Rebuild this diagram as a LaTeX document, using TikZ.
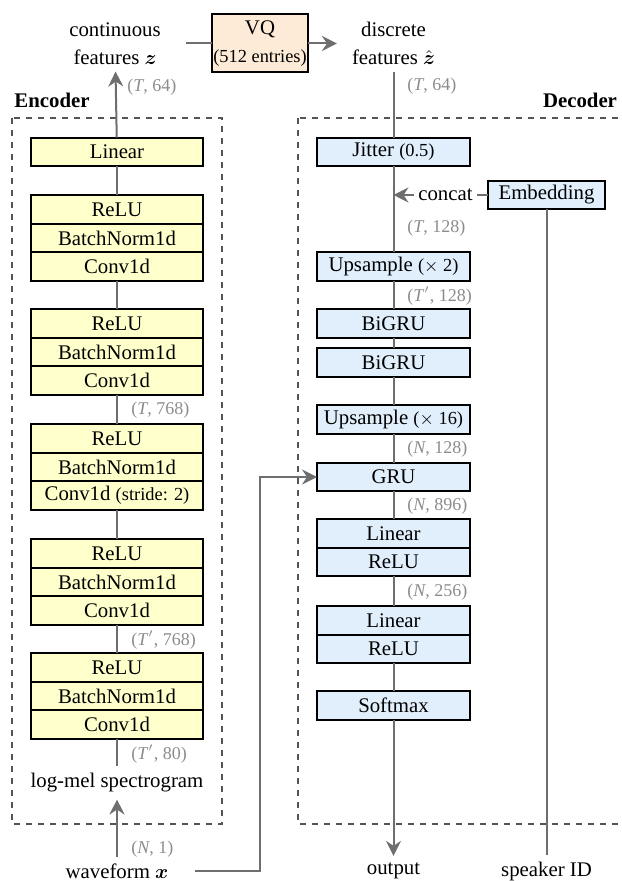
\documentclass[tikz,border=0pt]{standalone}
\usepackage{amsmath,amssymb}
\usepackage{fontspec}
\setmainfont{Liberation Serif}
\usepackage{xcolor}
\usepackage{tikz}
\usetikzlibrary{positioning,arrows.meta,calc}
\definecolor{encyellow}{HTML}{FFFFCC}
\definecolor{decblue}{HTML}{E1EEFC}
\definecolor{vqorange}{HTML}{FDEBD8}
\definecolor{linegray}{HTML}{6E6E6E}
\definecolor{dimgray}{HTML}{8C8C8C}
\definecolor{framegray}{HTML}{555555}
\newcommand\mainsz{\fontsize{10.4}{14}\selectfont}
\newcommand\smallsz{\fontsize{9.2}{11}\selectfont}
\newcommand\dimsz{\fontsize{9}{11}\selectfont}
\tikzset{
  blk/.style={rectangle, draw=black, line width=1pt, minimum height=14.33pt, inner sep=0pt, outer sep=0pt, font=\mainsz},
  encblk/.style={blk, fill=encyellow, minimum width=86pt},
  decblk/.style={blk, fill=decblue, minimum width=76.5pt},
  vqbox/.style={blk, fill=vqorange, minimum width=48pt, minimum height=29pt, align=center},
  conn/.style={draw=linegray, line width=1pt},
  arr/.style={conn, -{Stealth[length=7.5pt, width=7.5pt, inset=2.5pt]}, color=linegray},
  dim/.style={font=\dimsz, text=dimgray, anchor=west, inner sep=0pt},
  frame/.style={draw=framegray, line width=0.6pt, dash pattern=on 3pt off 3pt},
  txt/.style={font=\mainsz, align=center},
  ttl/.style={font=\mainsz\bfseries}
}
\begin{document}
\begin{tikzpicture}[x=0.5pt, y=-0.5pt, font=\mainsz]
\useasboundingbox (0,0) rectangle (621,881);
\clip (0,0) rectangle (621,881);

% frames
\draw[frame] (12,118) rectangle (222,824);
\draw[frame] (298,118) rectangle (640,824);
\node[ttl] (enctitle) at (52,100) {Encoder};
\node[ttl] (dectitle) at (580,100) {Decoder};

% encoder
\node[txt] (feats) at (115,43.5) {continuous\\features $\boldsymbol{z}$};
\node[vqbox] (vq) at (260,43.5) {VQ\\{\smallsz(512 entries)}};
\node[txt] (dfeats) at (393.5,43.5) {discrete\\features $\hat{\boldsymbol{z}}$};
\node[encblk] (lin) at (117,152) {Linear};
\foreach \i/\y/\cv in {1/209.3/Conv1d, 2/323.3/Conv1d, 3/438.3/{Conv1d {\smallsz(stride: 2)}}, 4/553.3/Conv1d, 5/667.3/Conv1d}{
  \node[encblk] (r\i) at (117,\y) {ReLU};
  \node[encblk, below=0pt of r\i] (n\i) {BatchNorm1d};
  \node[encblk, below=0pt of n\i] (c\i) {\cv};
}
\node[txt] (mel) at (117,783) {log-mel spectrogram};
\node[txt] (wave) at (117,871) {waveform $\boldsymbol{x}$};

\draw[arr] (wave) -- (mel);
\draw[conn] (mel) -- (c5);
\foreach \a/\b in {r5/c4, r4/c3, r3/c2, r2/c1, r1/lin}
  \draw[conn] (\a) -- (\b);
\draw[arr] (lin) -- (feats);
\draw[conn] ([xshift=9pt]feats.east |- vq.west) -- (vq.west);
\draw[arr] (vq.east) -- ([xshift=-4pt]dfeats.west |- vq.east);

\node[dim] (dz) at (127,87) {(\textit{T}, 64)};
\node[dim] (d768) at (131,410) {(\textit{T}, 768)};
\node[dim] (d768b) at (131,640) {(\textit{T}$'$, 768)};
\node[dim] (d80) at (131,754) {(\textit{T}$'$, 80)};
\node[dim] (d1) at (131,849) {(\textit{N}, 1)};

% decoder
\node[decblk] (jit) at (393.5,152) {Jitter {\smallsz(0.5)}};
\node[decblk, minimum width=58.5pt, minimum height=14pt] (emb) at (546.5,195) {Embedding};
\coordinate (cat) at (393.5,195);
\node[decblk] (up1) at (393.5,266.5) {Upsample {\smallsz($\times$ 2)}};
\node[decblk] (gru1) at (393.5,323.5) {BiGRU};
\node[decblk] (gru2) at (393.5,362.5) {BiGRU};
\node[decblk] (up2) at (393.5,419.5) {Upsample {\smallsz($\times$ 16)}};
\node[decblk] (gru) at (393.5,477) {GRU};
\node[decblk] (lin1) at (393.5,533.5) {Linear};
\node[decblk, below=0pt of lin1] (relu1) {ReLU};
\node[decblk] (lin2) at (393.5,620.5) {Linear};
\node[decblk, below=0pt of lin2] (relu2) {ReLU};
\node[decblk] (soft) at (393.5,705.5) {Softmax};
\node[txt] (out) at (393.5,871) {output};
\node[txt] (spk) at (546.5,871) {speaker ID};

\foreach \a/\b in {dfeats/jit, jit/up1, up1/gru1, gru1/gru2, gru2/up2, up2/gru, gru/lin1, relu1/lin2, relu2/soft}
  \draw[conn] (\a) -- (\b);
\draw[arr] (soft) -- (out);
\draw[conn] (spk) -- (emb);
\draw[arr] (emb) -- node[pos=0.45, fill=white, inner xsep=2pt, inner ysep=1pt, text=black] (cattext) {concat} (cat);
\coordinate (bend) at (260,477);
\draw[arr] ([xshift=10pt]wave.east) -| (bend) -- (gru.west);

\node[dim] (dz2) at (407,86) {(\textit{T}, 64)};
\node[dim] (d128) at (407,228) {(\textit{T}, 128)};
\node[dim] (d128b) at (407,296) {(\textit{T}$'$, 128)};
\node[dim] (dn128) at (407,449) {(\textit{N}, 128)};
\node[dim] (dn896) at (407,506) {(\textit{N}, 896)};
\node[dim] (dn256) at (407,592) {(\textit{N}, 256)};
\end{tikzpicture}
\end{document}
